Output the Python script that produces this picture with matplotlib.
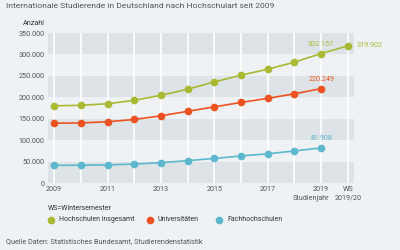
import matplotlib.pyplot as plt

plt.rcParams['font.family'] = ['Roboto', 'DejaVu Sans']

# Data (Anzahl internationale Studierende)
years = ["2009", "2010", "2011", "2012", "2013", "2014", "2015", "2016", "2017", "2018", "2019", "WS 2019/20"]
gesamt = [180222, 181249, 184960, 192853, 204644, 218848, 235858, 251542, 265484, 282002, 302157, 319902]
unis = [139500, 140100, 143000, 148200, 156800, 167300, 177600, 188000, 197500, 208200, 220249]
fhs = [41200, 41500, 42300, 44200, 47500, 52100, 57300, 63200, 68100, 74800, 81908]

tick_pos = [0, 2, 4, 6, 8, 10, 11]
tick_labels = ["2009", "2011", "2013", "2015", "2017", "2019", "WS\n2019/20"]
y_ticks = [0, 50000, 100000, 150000, 200000, 250000, 300000, 350000]

c_green = "#a9b934"
c_orange = "#ee5220"
c_blue = "#5db7cd"
c_text = "#555555"
c_dark = "#333333"
bg = "#eef2f4"
band = "#dde3e6"
fs = 5.2

fig = plt.figure(figsize=(4, 2.5), dpi=100, facecolor=bg)
ax = fig.add_axes([0.12, 0.268, 0.765, 0.6])
ax.set_facecolor(bg)

# alternating bands
for i in range(0, 350000, 100000):
    ax.axhspan(i, i + 50000, color=band, lw=0, zorder=0)
for k in range(len(years)):
    ax.axvline(k, color="white", lw=1.2, zorder=1)

x_all = list(range(len(gesamt)))
x_sub = list(range(len(unis)))
ax.plot(x_all, gesamt, color=c_green, lw=1.2, marker="o", ms=4.5, zorder=3)
ax.plot(x_sub, unis, color=c_orange, lw=1.2, marker="o", ms=4.5, zorder=3)
ax.plot(x_sub, fhs, color=c_blue, lw=1.2, marker="o", ms=4.5, zorder=3)

def fmt(v):
    return f"{v:,}".replace(",", ".")

def label(x, y, c, dx=0, dy=6.5, ha="center"):
    ax.annotate(fmt(y), (x, y), xytext=(dx, dy), textcoords="offset points",
                color=c, fontsize=fs, ha=ha, va="center")

label(10, gesamt[10], c_green)
label(11, gesamt[11], c_green, dx=6.5, dy=0, ha="left")
label(10, unis[10], c_orange)
label(10, fhs[10], c_blue)

ax.set_xlim(-0.23, 11.23)
ax.set_ylim(0, 350000)
ax.set_yticks(y_ticks)
ax.set_yticklabels([fmt(v) for v in y_ticks])
ax.set_xticks(tick_pos)
ax.set_xticklabels(tick_labels, linespacing=1.25)
ax.tick_params(length=0, labelsize=fs, colors=c_text, pad=2.5)
for s in ax.spines.values():
    s.set_visible(False)
ax.annotate("Studienjahr", (10, 0), xytext=(6, -11.3), textcoords="offset points",
            ha="right", va="center", fontsize=fs, color=c_text)

fig.text(0.015, 0.975, "Internationale Studierende in Deutschland nach Hochschulart seit 2009",
         fontsize=6.1, color=c_text, va="center")
fig.text(0.112, 0.905, "Anzahl", fontsize=fs, color=c_dark, ha="right", va="center")

# legend
fig.text(0.12, 0.165, "WS=Wintersemester", fontsize=5, color=c_dark, va="center")
leg = [(0.1275, c_green, "Hochschulen insgesamt"), (0.375, c_orange, "Universitäten"),
       (0.5475, c_blue, "Fachhochschulen")]
for xp, c, lab in leg:
    fig.lines.append(plt.Line2D([xp], [0.122], marker="o", ms=4.5, color=c, lw=0,
                                transform=fig.transFigure))
    fig.text(xp + 0.02, 0.122, lab, fontsize=5, color=c_dark, va="center")

fig.text(0.015, 0.033, "Quelle Daten: Statistisches Bundesamt, Studierendenstatistik",
         fontsize=fs, color=c_text, va="center")

plt.savefig("out.png", dpi=100, facecolor=bg)
